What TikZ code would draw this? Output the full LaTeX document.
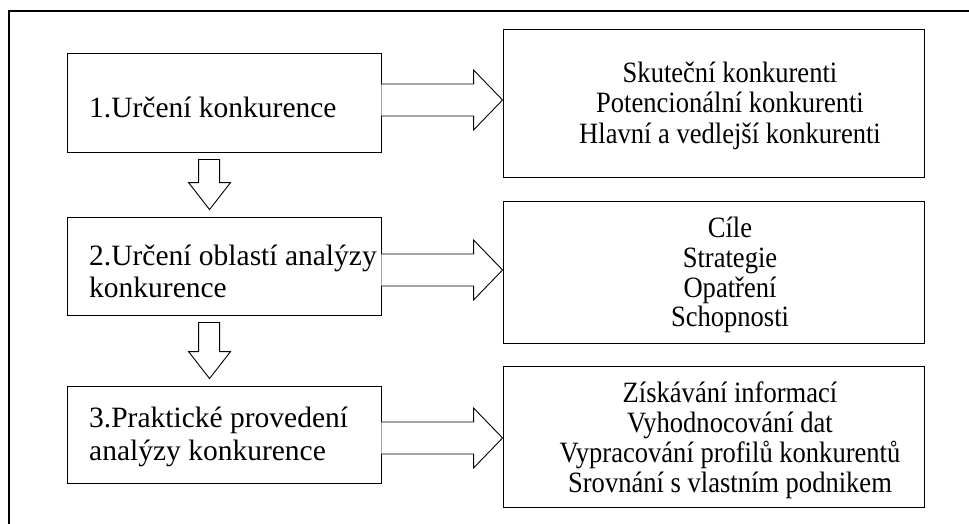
\documentclass[tikz,border=0pt]{standalone}
\usepackage{fontspec}
\setmainfont{Liberation Serif}[FakeStretch=0.9]
\newfontfamily\leftserif{Liberation Serif}
\usetikzlibrary{calc}
\tikzset{
  box/.style={draw=black, line width=0.9pt, fill=white, inner sep=0pt, minimum width=#1},
  box/.default=314,
  lefttxt/.style={anchor=base west, inner sep=0pt, font=\leftserif\fontsize{29.5}{33}\selectfont},
  righttxt/.style={anchor=base, inner sep=0pt, font=\fontsize{29.5}{30}\selectfont},
  arr/.style={draw=black, line width=0.9pt, fill=white, line join=miter},
  frame/.style={line width=2.6pt, draw=black}
}
\newcommand\harrow[3]{% from node, to node, y of axis
  \draw[arr] (#1.east |- 0,{#3-16}) -- ($(#2.west |- 0,{#3-16})+(-29,0)$) -- ($(#2.west |- 0,{#3-30})+(-29,0)$)
    -- (#2.west |- 0,#3) -- ($(#2.west |- 0,{#3+30})+(-29,0)$) -- ($(#2.west |- 0,{#3+16})+(-29,0)$)
    -- (#1.east |- 0,{#3+16});}
\newcommand\varrow[2]{% from node, to node
  \draw[arr] ($(#1.south west)+(132,7)$) -- ($(#1.south west)+(153,7)$) -- ($(#2.north west)+(153,-34)$)
    -- ($(#2.north west)+(164,-34)$) -- ($(#2.north west)+(143,-7)$) -- ($(#2.north west)+(122,-34)$)
    -- ($(#2.north west)+(132,-34)$) -- cycle;}
\begin{document}
\begin{tikzpicture}[x=1pt,y=-1pt]
\useasboundingbox (0,0) rectangle (969,524);
\fill[white] (0,0) rectangle (969,524);
\draw[frame] (969,11) -- (9,11) -- (9,524);

% left boxes
\node[box, minimum height=99] (b1) at (224,102.5) {};
\node[box, minimum height=98] (b2) at (224,266) {};
\node[box, minimum height=97] (b3) at (224,434.5) {};

% right boxes
\node[box=421, minimum height=148] (r1) at (713.5,103) {};
\node[box=421, minimum height=142] (r2) at (713.5,272) {};
\node[box=421, minimum height=141] (r3) at (713.5,436.5) {};

% left texts
\node[lefttxt] (t1) at (89,118) {1.Určení konkurence};
\node[lefttxt] (t2a) at (89,265) {2.Určení oblastí analýzy};
\node[lefttxt] (t2b) at (89,297) {konkurence};
\node[lefttxt] (t3a) at (89,427) {3.Praktické provedení};
\node[lefttxt] (t3b) at (89,460) {analýzy konkurence};

% right texts
\node[righttxt] (s1a) at (730,83) {Skuteční konkurenti};
\node[righttxt] (s1b) at (730,113) {Potencionální konkurenti};
\node[righttxt] (s1c) at (730,143) {Hlavní a vedlejší konkurenti};

\node[righttxt] (s2a) at (730,237) {Cíle};
\node[righttxt] (s2b) at (730,267) {Strategie};
\node[righttxt] (s2c) at (730,297) {Opatření};
\node[righttxt] (s2d) at (730,326) {Schopnosti};

\node[righttxt] (s3a) at (730,402) {Získávání informací};
\node[righttxt] (s3b) at (730,432) {Vyhodnocování dat};
\node[righttxt] (s3c) at (730,462) {Vypracování profilů konkurentů};
\node[righttxt] (s3d) at (730,492) {Srovnání s vlastním podnikem};

% arrows
\harrow{b1}{r1}{100}
\harrow{b2}{r2}{270}
\harrow{b3}{r3}{438}
\varrow{b1}{b2}
\varrow{b2}{b3}
\end{tikzpicture}
\end{document}
